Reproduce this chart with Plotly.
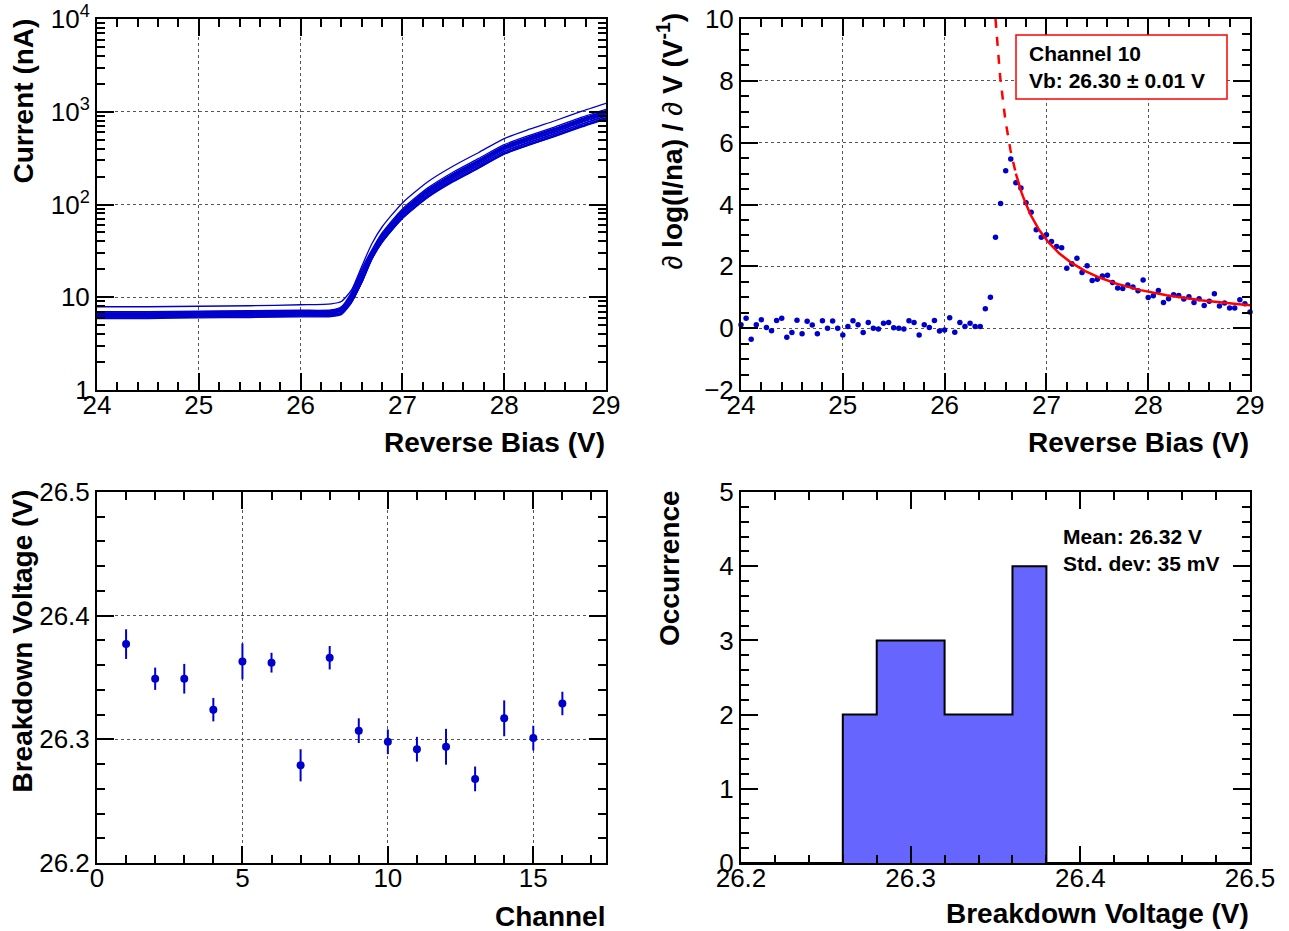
import numpy as np
import plotly.graph_objects as go

W, H = 1289, 931
FONT = "Liberation Sans, Arial, Helvetica, sans-serif"
BLUE = "#0000cc"

# ---------------- I-V curves, 16 channels (nA) ----------------
BIAS_V = [24.0, 24.5, 25.0, 25.5, 26.0, 26.3, 26.4, 26.5, 26.6, 26.7,
          26.8, 27.0, 27.25, 27.5, 27.75, 28.0, 28.25, 28.5, 28.75, 29.0]
CH01_NA = [6.2, 6.2, 6.3, 6.35, 6.45, 6.5, 6.8, 8.9, 14.3, 25.5, 38.7, 70.4, 119, 176, 246, 348, 438, 541, 679, 836]
CH02_NA = [6.0, 6.0, 6.1, 6.15, 6.25, 6.3, 6.6, 9.2, 15.5, 27.6, 41.8, 76.0, 128, 190, 266, 375, 473, 584, 733, 903]
CH03_NA = [6.5, 6.5, 6.6, 6.65, 6.75, 6.8, 7.1, 9.6, 15.8, 27.3, 41.4, 75.2, 127, 188, 263, 371, 468, 578, 726, 893]
CH04_NA = [6.7, 6.7, 6.8, 6.85, 6.95, 7.0, 7.4, 10.2, 17.2, 29.0, 44.0, 80.0, 135, 200, 280, 395, 498, 615, 772, 950]
CH05_NA = [5.9, 5.9, 6.0, 6.05, 6.15, 6.2, 6.5, 8.7, 14.4, 26.1, 39.6, 72.0, 122, 180, 252, 356, 449, 554, 695, 855]
CH06_NA = [6.3, 6.3, 6.4, 6.45, 6.55, 6.6, 6.9, 9.2, 15.0, 26.4, 40.0, 72.8, 123, 182, 255, 359, 453, 560, 703, 865]
CH07_NA = [7.0, 7.0, 7.1, 7.15, 7.25, 7.3, 7.9, 11.4, 20.2, 32.5, 49.3, 89.6, 151, 224, 314, 442, 557, 689, 865, 1064]
CH08_NA = [6.1, 6.1, 6.2, 6.25, 6.35, 6.4, 6.7, 8.9, 14.4, 25.8, 39.2, 71.2, 120, 178, 249, 352, 443, 547, 687, 846]
CH09_NA = [6.6, 6.6, 6.7, 6.75, 6.85, 6.9, 7.4, 10.4, 18.0, 30.2, 45.8, 83.2, 140, 208, 291, 411, 518, 640, 803, 988]
CH10_NA = [6.8, 6.8, 6.9, 6.95, 7.05, 7.1, 7.6, 10.7, 18.6, 30.7, 46.6, 84.8, 143, 212, 297, 419, 528, 652, 818, 1007]
CH11_NA = [6.4, 6.4, 6.5, 6.55, 6.65, 6.7, 7.2, 10.5, 18.6, 31.3, 47.5, 86.4, 146, 216, 302, 427, 538, 664, 834, 1026]
CH12_NA = [6.9, 6.9, 7.0, 7.05, 7.15, 7.2, 7.7, 10.9, 18.9, 31.0, 47.1, 85.6, 144, 214, 300, 423, 533, 658, 826, 1017]
CH13_NA = [7.9, 7.9, 8.0, 8.1, 8.3, 8.5, 9.0, 12.0, 21.5, 37.7, 57.2, 104, 176, 260, 364, 514, 648, 800, 1004, 1235]
CH14_NA = [6.2, 6.2, 6.3, 6.35, 6.45, 6.5, 6.9, 9.8, 17.1, 29.6, 44.9, 81.6, 138, 204, 286, 403, 508, 627, 787, 969]
CH15_NA = [6.6, 6.6, 6.7, 6.75, 6.85, 6.9, 7.4, 10.5, 18.2, 30.5, 46.2, 84.0, 142, 210, 294, 415, 523, 646, 811, 998]
CH16_NA = [6.5, 6.5, 6.6, 6.65, 6.75, 6.8, 7.2, 9.9, 16.6, 28.4, 43.1, 78.4, 132, 196, 274, 387, 488, 603, 757, 931]
IV_CURVES = [CH01_NA, CH02_NA, CH03_NA, CH04_NA, CH05_NA, CH06_NA, CH07_NA, CH08_NA,
             CH09_NA, CH10_NA, CH11_NA, CH12_NA, CH13_NA, CH14_NA, CH15_NA, CH16_NA]

# ---------------- d ln(I)/dV for channel 10 ----------------
DERIV_V = np.round(np.arange(24.0, 29.0001, 0.05), 2)
DERIV_VAL = [0.11, 0.32, -0.36, 0.11, 0.27, 0.02, -0.08, 0.25, 0.32, -0.29,
             -0.14, 0.26, -0.18, 0.22, 0.10, -0.18, 0.24, 0.00, 0.23, 0.00,
             -0.22, 0.05, 0.24, 0.11, -0.14, 0.18, 0.00, -0.03, 0.16, 0.18,
             0.01, 0.00, -0.03, 0.24, 0.18, -0.22, 0.11, 0.02, 0.25, -0.09,
             -0.06, 0.34, -0.13, 0.18, 0.05, 0.16, 0.05, 0.05, 0.63, 1.00,
             2.94, 4.03, 5.09, 5.47, 4.70, 4.53, 4.06, 3.75, 3.18, 2.94,
             3.02, 2.80, 2.64, 2.60, 1.94, 2.08, 2.26, 1.80, 2.02, 1.54,
             1.58, 1.69, 1.71, 1.48, 1.30, 1.28, 1.40, 1.33, 1.21, 1.56,
             0.99, 1.05, 1.22, 0.83, 0.95, 1.08, 1.06, 0.94, 1.02, 0.83,
             0.95, 0.73, 0.87, 1.11, 0.72, 0.81, 0.65, 0.65, 0.92, 0.79,
             0.52]
FIT_VB = 26.30          # fitted breakdown voltage (V)
FIT_COEF = 2.0          # d lnI/dV = FIT_COEF / (V - Vb)
FIT_SOLID_FROM = 26.7   # fit range start
FIT_MAX_X = 29.0

# ---------------- breakdown voltage per channel ----------------
CHANNELS = list(range(1, 17))
VB_CH = [26.377, 26.349, 26.349, 26.324, 26.363, 26.362, 26.279, 26.366,
         26.307, 26.298, 26.292, 26.294, 26.268, 26.317, 26.301, 26.329]
VB_ERR = [0.012, 0.009, 0.012, 0.0095, 0.0145, 0.008, 0.013, 0.0095,
          0.010, 0.010, 0.010, 0.0145, 0.010, 0.0145, 0.010, 0.0095]
HIST_LO, HIST_HI, HIST_BIN = 26.2, 26.5, 0.02


def px(x):
    return x / W


def py(y):
    return 1 - y / H


# panel frames in pixels: (left, right, top, bottom)
P_TL = (97, 606, 19, 390)
P_TR = (741, 1250, 19, 390)
P_BL = (97, 606, 492, 863)
P_BR = (741, 1250, 492, 863)

fig = go.Figure()

# I-V curves
for curve in IV_CURVES:
    fig.add_trace(go.Scatter(x=BIAS_V, y=curve, mode="lines",
                             line=dict(color=BLUE, width=1.3, shape="spline", smoothing=0.6),
                             xaxis="x", yaxis="y", showlegend=False))

# derivative points
fig.add_trace(go.Scatter(x=DERIV_V, y=DERIV_VAL, mode="markers",
                         marker=dict(color=BLUE, size=5.5), cliponaxis=False,
                         xaxis="x2", yaxis="y2", showlegend=False))

# fit curve: dashed outside the fit range, solid inside
v_dash = np.linspace(FIT_VB + FIT_COEF / 10.0, FIT_SOLID_FROM, 60)
v_solid = np.linspace(FIT_SOLID_FROM, FIT_MAX_X, 200)
fig.add_trace(go.Scatter(x=v_dash, y=FIT_COEF / (v_dash - FIT_VB), mode="lines",
                         line=dict(color="#ff0000", width=2.5, dash="dash"),
                         xaxis="x2", yaxis="y2", showlegend=False))
fig.add_trace(go.Scatter(x=v_solid, y=FIT_COEF / (v_solid - FIT_VB), mode="lines",
                         line=dict(color="#ff0000", width=2.5),
                         xaxis="x2", yaxis="y2", showlegend=False))

# breakdown voltage vs channel
fig.add_trace(go.Scatter(x=CHANNELS, y=VB_CH, mode="markers",
                         marker=dict(color=BLUE, size=8),
                         error_y=dict(type="data", array=VB_ERR, color=BLUE,
                                      thickness=2, width=0),
                         xaxis="x3", yaxis="y3", showlegend=False))

# histogram of breakdown voltages
edges = np.round(np.arange(HIST_LO, HIST_HI + HIST_BIN / 2, HIST_BIN), 3)
counts, _ = np.histogram(VB_CH, bins=edges)
centers = (edges[:-1] + edges[1:]) / 2
fig.add_trace(go.Bar(x=centers, y=counts, width=HIST_BIN,
                     marker=dict(color="#6666ff", line=dict(width=0)),
                     xaxis="x4", yaxis="y4", showlegend=False))
step_x = list(edges[:-1]) + [edges[-1]]
step_y = list(counts) + [counts[-1]]
fig.add_trace(go.Scatter(x=step_x, y=step_y, mode="lines",
                         line=dict(color="black", width=2, shape="hv"),
                         xaxis="x4", yaxis="y4", showlegend=False))


def axis(domain, rng, dtick=None, minor_dtick=None, grid=True, standoff=0, **kw):
    d = dict(domain=domain, range=rng, showline=True, linecolor="black", linewidth=2,
             mirror="allticks", ticks="inside", ticklen=17, tickwidth=1.5,
             tickcolor="black", showgrid=grid, gridcolor="#555555", griddash="dot",
             gridwidth=1, zeroline=False, ticklabelstandoff=standoff, automargin=False,
             tickfont=dict(family=FONT, size=26, color="black"))
    if dtick is not None:
        d["dtick"] = dtick
        d["tick0"] = 0
    if minor_dtick is not None:
        d["minor"] = dict(ticks="inside", ticklen=8, tickwidth=1.5, tickcolor="black",
                          dtick=minor_dtick, tick0=0, showgrid=False)
    d.update(kw)
    return d


def xdom(p):
    return [px(p[0]), px(p[1])]


def ydom(p):
    return [py(p[3]), py(p[2])]


log_minor = [m * 10 ** e for e in range(0, 4) for m in range(2, 10)]
XS = -9   # x tick-label standoff
YS = 0    # y tick-label standoff

fig.update_layout(
    width=W, height=H, margin=dict(l=0, r=0, t=0, b=0, autoexpand=False),
    paper_bgcolor="white", plot_bgcolor="white", showlegend=False,
    bargap=0,
    xaxis=axis(xdom(P_TL), [24, 29], 1, 0.2, standoff=XS, anchor="y"),
    yaxis=axis(ydom(P_TL), [0, 4], standoff=YS, anchor="x", type="log",
               tickvals=[1, 10, 100, 1000, 10000],
               ticktext=["1", "10", "10<sup>2</sup>", "10<sup>3</sup>", "10<sup>4</sup>"],
               minor=dict(ticks="inside", ticklen=8, tickwidth=1.5, tickcolor="black",
                          tickvals=log_minor, showgrid=False)),
    xaxis2=axis(xdom(P_TR), [24, 29], 1, 0.2, standoff=XS, anchor="y2"),
    yaxis2=axis(ydom(P_TR), [-2, 10], 2, 0.5, standoff=YS, anchor="x2"),
    xaxis3=axis(xdom(P_BL), [0, 17.5], 5, 1, standoff=XS, anchor="y3"),
    yaxis3=axis(ydom(P_BL), [26.2, 26.5], 0.1, 0.02, standoff=YS, anchor="x3",
                tickformat=".1f"),
    xaxis4=axis(xdom(P_BR), [26.2, 26.5], 0.1, 0.02, grid=False, standoff=XS,
                anchor="y4", tickformat=".1f"),
    yaxis4=axis(ydom(P_BR), [0, 5], 1, 0.2, grid=False, standoff=YS, anchor="x4"),
)

TITLE_FONT = dict(family=FONT, size=28, color="black", weight="bold")
ann = []


def xtitle(text, right, yc):
    ann.append(dict(text=text, x=px(right), y=py(yc), xref="paper", yref="paper",
                    xanchor="right", yanchor="middle", showarrow=False, font=TITLE_FONT))


def ytitle(text, xc, top, weight="bold"):
    f = dict(TITLE_FONT)
    f["weight"] = weight
    ann.append(dict(text=text, x=px(xc), y=py(top), xref="paper", yref="paper",
                    xanchor="center", yanchor="top", textangle=-90, showarrow=False,
                    font=f))


xtitle("Reverse Bias (V)", 607, 442)
xtitle("Reverse Bias (V)", 1251, 442)
xtitle("Channel", 607, 916)
xtitle("Breakdown Voltage (V)", 1251, 913)
ytitle("Current (nA)", 23, 17)
ytitle("∂ <b>log(I/na) / </b>∂<b> V (V<sup>-1</sup>)</b>", 670, 11, weight="normal")
ytitle("Breakdown Voltage (V)", 22, 488)
ytitle("Occurrence", 669, 488)

BOX_FONT = dict(family=FONT, size=21, color="black", weight="bold")
ann.append(dict(text=f"Channel 10<br>Vb: {FIT_VB:.2f} ± 0.01 V", x=px(1027), y=py(40),
                xref="paper", yref="paper", xanchor="left", yanchor="top",
                align="left", showarrow=False, font=BOX_FONT))
ann.append(dict(text=f"Mean: {np.mean(VB_CH):.2f} V<br>Std. dev: 35 mV",
                x=px(1061), y=py(523), xref="paper", yref="paper", xanchor="left",
                yanchor="top", align="left", showarrow=False, font=BOX_FONT))
fig.update_layout(annotations=ann)

fig.add_shape(type="rect", xref="paper", yref="paper",
              x0=px(1016), x1=px(1227), y0=py(99), y1=py(35),
              line=dict(color="#ff0000", width=1.5), fillcolor="white", layer="above")

fig.write_html("out.html")
